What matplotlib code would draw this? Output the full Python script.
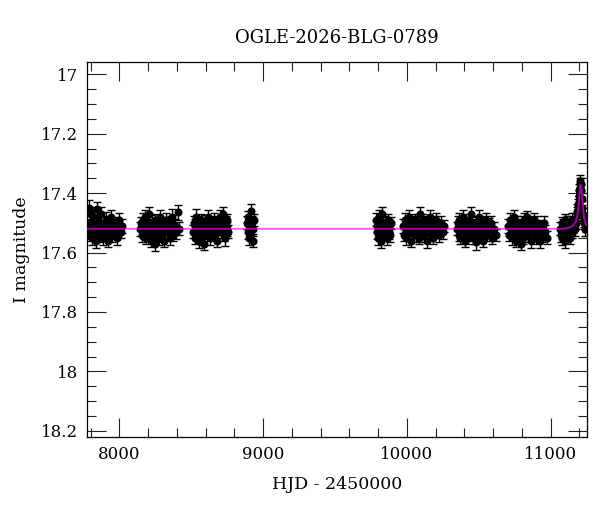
import matplotlib
matplotlib.use("Agg")
import matplotlib.pyplot as plt
from matplotlib.ticker import MultipleLocator, FormatStrFormatter

plt.rcParams['font.family'] = ['DejaVu Serif']

# --- photometry, one season per block (HJD - 2450000, I mag, error) ---
s1_t = [7781, 7786, 7790, 7795, 7799, 7804, 7808, 7813, 7818, 7822,
        7827, 7832, 7837, 7842, 7847, 7852, 7857, 7863, 7868, 7874,
        7880, 7886, 7892, 7898, 7904, 7911, 7917, 7924, 7931, 7938,
        7945, 7952, 7960, 7968, 7976, 7984, 7992, 8000, 8010, 8021]
s1_mag = [17.51, 17.53, 17.45, 17.54, 17.50, 17.47, 17.52, 17.55, 17.50, 17.53,
          17.48, 17.52, 17.56, 17.455, 17.49, 17.53, 17.50, 17.54, 17.52, 17.47,
          17.51, 17.55, 17.50, 17.52, 17.49, 17.53, 17.51, 17.56, 17.50, 17.52,
          17.48, 17.54, 17.51, 17.53, 17.50, 17.55, 17.52, 17.49, 17.53, 17.51]
s1_err = [0.022, 0.024, 0.026, 0.021, 0.023, 0.025, 0.022, 0.024, 0.021, 0.023,
          0.022, 0.025, 0.023, 0.024, 0.021, 0.022, 0.024, 0.023, 0.022, 0.025,
          0.021, 0.023, 0.024, 0.022, 0.025, 0.021, 0.023, 0.022, 0.024, 0.021,
          0.023, 0.025, 0.022, 0.024, 0.021, 0.023, 0.022, 0.024, 0.021, 0.023]

s2_t = [8146, 8152, 8157, 8163, 8168, 8174, 8180, 8185, 8191, 8197,
        8203, 8209, 8215, 8221, 8227, 8233, 8239, 8245, 8251, 8257,
        8263, 8270, 8276, 8283, 8290, 8297, 8304, 8311, 8318, 8325,
        8333, 8341, 8349, 8357, 8366, 8375, 8384, 8394, 8408, 8418]
s2_mag = [17.52, 17.50, 17.54, 17.49, 17.53, 17.51, 17.48, 17.55, 17.52, 17.50,
          17.47, 17.53, 17.51, 17.56, 17.50, 17.54, 17.52, 17.49, 17.57, 17.51,
          17.53, 17.50, 17.55, 17.48, 17.52, 17.54, 17.50, 17.56, 17.51, 17.49,
          17.53, 17.52, 17.55, 17.50, 17.48, 17.54, 17.51, 17.53, 17.465, 17.52]
s2_err = [0.023, 0.021, 0.024, 0.022, 0.025, 0.021, 0.023, 0.022, 0.024, 0.021,
          0.022, 0.024, 0.023, 0.021, 0.025, 0.022, 0.023, 0.021, 0.024, 0.022,
          0.023, 0.021, 0.024, 0.022, 0.023, 0.025, 0.021, 0.022, 0.024, 0.023,
          0.021, 0.022, 0.024, 0.023, 0.025, 0.021, 0.022, 0.024, 0.026, 0.022]

s3_t = [8513, 8518, 8523, 8529, 8534, 8540, 8545, 8551, 8556, 8562,
        8568, 8574, 8580, 8586, 8592, 8598, 8604, 8610, 8617, 8623,
        8630, 8636, 8643, 8650, 8657, 8664, 8671, 8678, 8685, 8692,
        8699, 8706, 8713, 8720, 8727, 8734, 8741, 8747, 8752, 8757]
s3_mag = [17.53, 17.50, 17.55, 17.51, 17.48, 17.54, 17.52, 17.56, 17.50, 17.53,
          17.49, 17.55, 17.51, 17.53, 17.57, 17.50, 17.52, 17.54, 17.48, 17.51,
          17.55, 17.50, 17.53, 17.52, 17.49, 17.54, 17.51, 17.56, 17.50, 17.52,
          17.48, 17.53, 17.51, 17.47, 17.54, 17.55, 17.50, 17.49, 17.52, 17.53]
s3_err = [0.022, 0.024, 0.021, 0.023, 0.025, 0.022, 0.021, 0.024, 0.023, 0.022,
          0.021, 0.023, 0.024, 0.022, 0.021, 0.025, 0.023, 0.022, 0.024, 0.021,
          0.023, 0.022, 0.024, 0.021, 0.023, 0.022, 0.025, 0.021, 0.024, 0.022,
          0.023, 0.021, 0.024, 0.025, 0.022, 0.027, 0.023, 0.021, 0.024, 0.022]

s4_t = [8888, 8892, 8897, 8901, 8905, 8909, 8913, 8918, 8922, 8926, 8931, 8935]
s4_mag = [17.50, 17.53, 17.48, 17.55, 17.51, 17.52, 17.46, 17.54, 17.50, 17.56, 17.52, 17.49]
s4_err = [0.022, 0.024, 0.021, 0.023, 0.022, 0.025, 0.024, 0.021, 0.023, 0.022, 0.024, 0.021]

s5_t = [9785, 9790, 9795, 9800, 9805, 9810, 9815, 9820, 9825, 9830,
        9836, 9842, 9848, 9854, 9860, 9866, 9872, 9878, 9884, 9890]
s5_mag = [17.49, 17.53, 17.51, 17.55, 17.48, 17.52, 17.50, 17.56, 17.53, 17.47,
          17.51, 17.54, 17.50, 17.52, 17.55, 17.49, 17.53, 17.51, 17.54, 17.50]
s5_err = [0.022, 0.024, 0.021, 0.023, 0.022, 0.024, 0.021, 0.025, 0.023, 0.022,
          0.024, 0.021, 0.023, 0.022, 0.024, 0.021, 0.023, 0.022, 0.024, 0.021]

s6_t = [9972, 9978, 9984, 9990, 9996, 10002, 10008, 10014, 10020, 10027,
        10033, 10040, 10046, 10053, 10060, 10067, 10074, 10081, 10088, 10095,
        10102, 10109, 10116, 10124, 10131, 10139, 10146, 10154, 10162, 10170,
        10178, 10186, 10194, 10203, 10212, 10221, 10230, 10240, 10250, 10261]
s6_mag = [17.51, 17.54, 17.49, 17.52, 17.55, 17.50, 17.53, 17.48, 17.52, 17.56,
          17.50, 17.53, 17.51, 17.49, 17.54, 17.52, 17.50, 17.55, 17.47, 17.53,
          17.51, 17.49, 17.54, 17.52, 17.50, 17.56, 17.51, 17.53, 17.48, 17.52,
          17.55, 17.50, 17.53, 17.49, 17.51, 17.54, 17.52, 17.50, 17.53, 17.51]
s6_err = [0.023, 0.021, 0.024, 0.022, 0.023, 0.021, 0.025, 0.022, 0.024, 0.021,
          0.023, 0.022, 0.024, 0.021, 0.023, 0.025, 0.022, 0.021, 0.024, 0.023,
          0.022, 0.021, 0.024, 0.023, 0.022, 0.025, 0.021, 0.023, 0.022, 0.024,
          0.021, 0.023, 0.022, 0.024, 0.021, 0.023, 0.025, 0.022, 0.024, 0.021]

s7_t = [10347, 10353, 10359, 10365, 10371, 10377, 10383, 10389, 10395, 10401,
        10407, 10413, 10419, 10425, 10431, 10437, 10443, 10449, 10455, 10461,
        10468, 10474, 10481, 10488, 10495, 10502, 10509, 10516, 10523, 10530,
        10537, 10544, 10552, 10560, 10568, 10576, 10585, 10594, 10604, 10618]
s7_mag = [17.52, 17.50, 17.54, 17.49, 17.55, 17.51, 17.53, 17.48, 17.52, 17.56,
          17.50, 17.53, 17.51, 17.55, 17.49, 17.52, 17.47, 17.54, 17.50, 17.53,
          17.51, 17.55, 17.565, 17.50, 17.52, 17.48, 17.54, 17.51, 17.53, 17.56,
          17.50, 17.52, 17.49, 17.54, 17.51, 17.53, 17.50, 17.55, 17.52, 17.54]
s7_err = [0.022, 0.024, 0.021, 0.023, 0.022, 0.025, 0.021, 0.023, 0.024, 0.022,
          0.021, 0.023, 0.024, 0.022, 0.021, 0.025, 0.023, 0.022, 0.024, 0.021,
          0.023, 0.022, 0.028, 0.021, 0.023, 0.022, 0.024, 0.021, 0.023, 0.022,
          0.024, 0.021, 0.023, 0.022, 0.025, 0.021, 0.023, 0.022, 0.024, 0.021]

s8_t = [10706, 10712, 10718, 10724, 10730, 10736, 10742, 10748, 10754, 10760,
        10766, 10772, 10778, 10784, 10790, 10796, 10802, 10809, 10815, 10822,
        10829, 10836, 10843, 10850, 10857, 10864, 10871, 10878, 10885, 10892,
        10899, 10906, 10914, 10922, 10930, 10938, 10946, 10954, 10963, 10972]
s8_mag = [17.51, 17.54, 17.49, 17.52, 17.55, 17.50, 17.53, 17.48, 17.52, 17.56,
          17.50, 17.53, 17.51, 17.54, 17.57, 17.52, 17.50, 17.55, 17.49, 17.53,
          17.51, 17.48, 17.54, 17.52, 17.50, 17.56, 17.51, 17.53, 17.49, 17.52,
          17.55, 17.50, 17.53, 17.56, 17.51, 17.54, 17.52, 17.50, 17.53, 17.55]
s8_err = [0.023, 0.021, 0.024, 0.022, 0.023, 0.021, 0.025, 0.022, 0.024, 0.021,
          0.023, 0.022, 0.024, 0.021, 0.023, 0.025, 0.022, 0.021, 0.024, 0.023,
          0.022, 0.021, 0.024, 0.023, 0.022, 0.025, 0.021, 0.023, 0.022, 0.024,
          0.021, 0.023, 0.022, 0.024, 0.021, 0.023, 0.025, 0.022, 0.024, 0.021]

# event season
s9_t = [11066, 11071, 11076, 11081, 11086, 11091, 11096, 11101, 11106, 11111,
        11116, 11121, 11126, 11131, 11136, 11141, 11146, 11151, 11156, 11161,
        11166, 11171, 11176, 11181, 11186, 11190, 11194, 11197, 11200, 11203,
        11206, 11209, 11212, 11215, 11219, 11223, 11228, 11233, 11239, 11245]
s9_mag = [17.52, 17.54, 17.50, 17.55, 17.51, 17.53, 17.49, 17.56, 17.52, 17.50,
          17.54, 17.51, 17.53, 17.55, 17.50, 17.52, 17.49, 17.53, 17.51, 17.50,
          17.52, 17.49, 17.50, 17.47, 17.46, 17.44, 17.43, 17.41, 17.39, 17.37,
          17.36, 17.37, 17.39, 17.42, 17.45, 17.47, 17.49, 17.50, 17.52, 17.51]
s9_err = [0.022, 0.024, 0.021, 0.023, 0.022, 0.024, 0.021, 0.025, 0.023, 0.022,
          0.024, 0.021, 0.023, 0.022, 0.024, 0.021, 0.023, 0.022, 0.024, 0.021,
          0.023, 0.022, 0.021, 0.023, 0.022, 0.021, 0.022, 0.020, 0.021, 0.020,
          0.020, 0.021, 0.020, 0.021, 0.022, 0.021, 0.023, 0.022, 0.024, 0.022]

# microlensing model curve
model_t = [7777, 11080, 11120, 11140, 11160, 11175, 11185, 11192, 11198, 11203,
           11205, 11208, 11211, 11213, 11218, 11224, 11231, 11240, 11250]
model_mag = [17.52, 17.52, 17.517, 17.514, 17.507, 17.495, 17.475, 17.45, 17.415, 17.385,
             17.376, 17.372, 17.376, 17.385, 17.415, 17.45, 17.48, 17.50, 17.508]

seasons = [(s1_t, s1_mag, s1_err), (s2_t, s2_mag, s2_err), (s3_t, s3_mag, s3_err),
           (s4_t, s4_mag, s4_err), (s5_t, s5_mag, s5_err), (s6_t, s6_mag, s6_err),
           (s7_t, s7_mag, s7_err), (s8_t, s8_mag, s8_err), (s9_t, s9_mag, s9_err)]

fig = plt.figure(figsize=(6, 5.12), dpi=100)
ax = fig.add_axes([0.1455, 0.147, 0.8323, 0.731])

for t, mag, err in seasons:
    ax.errorbar(t, mag, yerr=err, fmt='o', color='black', ms=4.8,
                elinewidth=1.0, capsize=3, capthick=1.0, zorder=2)

ax.plot(model_t, model_mag, color='#ff00ff', lw=1.4, alpha=0.65, zorder=3)

ax.set_xlim(7777, 11250)
ax.set_ylim(18.22, 16.96)

ax.xaxis.set_major_locator(MultipleLocator(1000))
ax.xaxis.set_minor_locator(MultipleLocator(200))
ax.yaxis.set_major_locator(MultipleLocator(0.2))
ax.yaxis.set_minor_locator(MultipleLocator(0.05))
ax.yaxis.set_major_formatter(FormatStrFormatter('%g'))

ax.tick_params(which='both', direction='in', top=True, right=True,
               width=0.8, color='#222222', labelsize=12)
ax.tick_params(which='major', length=13.5)
ax.tick_params(which='minor', length=6.5)
ax.tick_params(axis='x', pad=7)
ax.tick_params(axis='y', pad=6.5)
for sp in ax.spines.values():
    sp.set_linewidth(0.9)

ax.set_title('OGLE-2026-BLG-0789', fontsize=13, pad=14)
ax.set_xlabel('HJD - 2450000', fontsize=12.5, labelpad=9)
ax.set_ylabel('I magnitude', fontsize=12.5, labelpad=8)

fig.savefig('out.png', dpi=100)
